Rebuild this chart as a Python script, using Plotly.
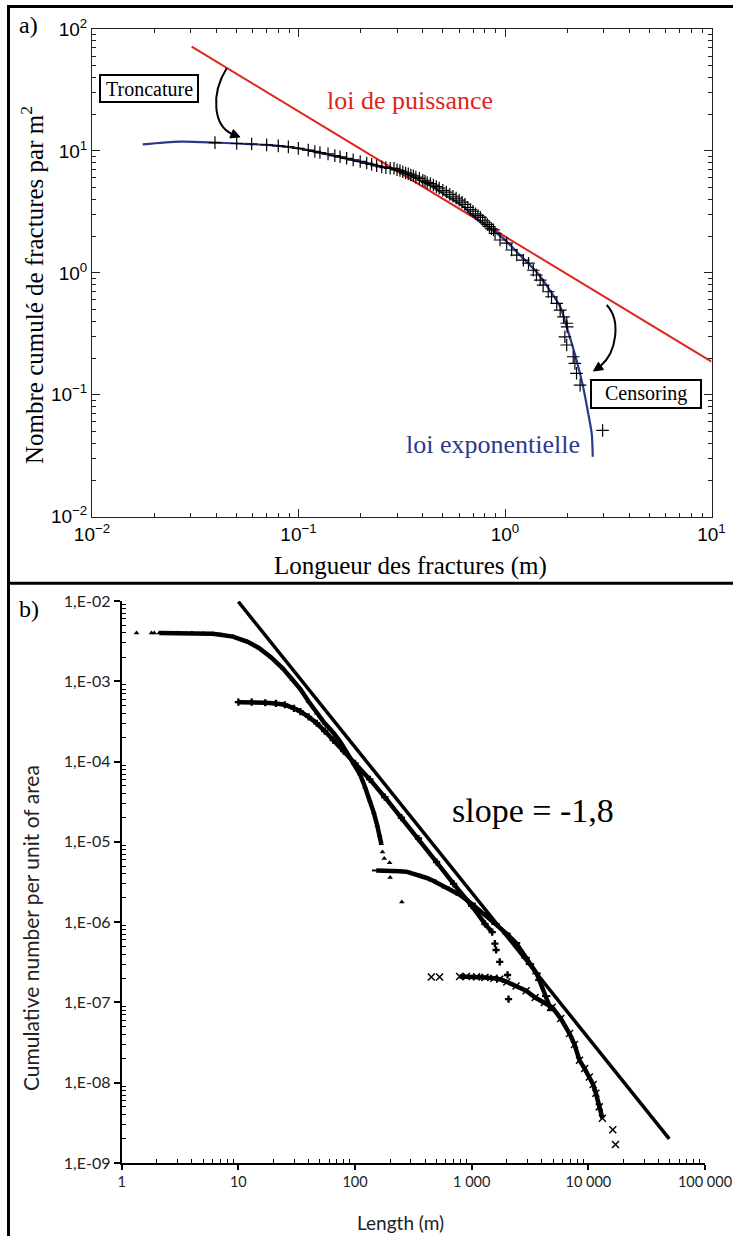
import plotly.graph_objects as go

# ---------------- Panel a data ----------------
red_x = [0.0304, 10.0]
red_y = [71.6, 0.187]

blue_x = [0.0176, 0.0267, 0.0394, 0.0502, 0.0701, 0.0998, 0.1425, 0.214, 0.299, 0.434,
          0.522, 0.628, 0.678, 0.846, 0.981, 1.18, 1.42, 1.65, 1.85, 1.99,
          2.22, 2.39, 2.53, 2.63, 2.66]
blue_y = [11.3, 11.9, 11.7, 11.5, 11.2, 10.5, 9.25, 7.9, 6.97, 5.2,
          4.25, 3.5, 3.08, 2.32, 1.92, 1.40, 1.02, 0.72, 0.527, 0.361,
          0.193, 0.116, 0.0703, 0.048, 0.031]

plus_x = [0.0394, 0.0502, 0.0593, 0.0701, 0.0798, 0.0893, 0.0998, 0.1115, 0.120, 0.127,
          0.139, 0.150, 0.159, 0.171, 0.184, 0.199, 0.214, 0.226, 0.239, 0.253,
          0.265, 0.278,
          0.29, 0.30, 0.31, 0.32, 0.33, 0.34, 0.35, 0.36, 0.37, 0.385,
          0.40, 0.41, 0.42, 0.435, 0.45, 0.465, 0.48, 0.50, 0.52, 0.54,
          0.56, 0.58, 0.60, 0.62, 0.64, 0.66, 0.68, 0.70, 0.72, 0.74,
          0.76, 0.78, 0.80, 0.82, 0.84, 0.86, 0.88,
          0.895, 0.946, 1.019, 1.077, 1.14, 1.227, 1.30, 1.37, 1.42, 1.48,
          1.53, 1.62, 1.68, 1.78, 1.85, 1.92, 1.99, 2.0, 1.95, 1.99,
          2.14, 2.18, 2.22, 2.31, 2.97]
plus_y = [11.7, 11.5, 11.4, 11.2, 11.0, 10.8, 10.5, 10.15, 9.9, 9.7,
          9.45, 9.15, 8.95, 8.7, 8.45, 8.2, 7.95, 7.75, 7.55, 7.4,
          7.3, 7.2,
          7.2, 7.0, 6.9, 6.75, 6.6, 6.5, 6.35, 6.25, 6.1, 5.95,
          5.75, 5.65, 5.5, 5.4, 5.25, 5.1, 4.95, 4.75, 4.6, 4.4,
          4.25, 4.1, 3.95, 3.8, 3.65, 3.45, 3.3, 3.2, 3.05, 2.95,
          2.85, 2.7, 2.6, 2.5, 2.4, 2.3, 2.25,
          2.11, 1.86, 1.75, 1.54, 1.40, 1.27, 1.20, 1.05, 0.96, 0.873,
          0.794, 0.70, 0.637, 0.562, 0.495, 0.436, 0.386, 0.361, 0.299, 0.256,
          0.205, 0.181, 0.150, 0.120, 0.051]

a_xticks = [0.01, 0.1, 1, 10]
a_xticktext = ["10<sup>−2</sup>", "10<sup>−1</sup>", "10<sup>0</sup>", "10<sup>1</sup>"]
a_yticks = [0.01, 0.1, 1, 10, 100]
a_yticktext = ["10<sup>−2</sup>", "10<sup>−1</sup>", "10<sup>0</sup>", "10<sup>1</sup>", "10<sup>2</sup>"]

# ---------------- Panel b data ----------------
tri_tail0_x = [1.34, 1.8, 1.9]
tri_tail0_y = [4.0e-3, 4.0e-3, 4.0e-3]
tri_x = [2.1, 3, 4, 5, 6, 7, 9, 12, 15, 19, 24, 29, 34, 40, 47, 55, 65, 74, 85, 97,
         110, 122, 134, 145, 155, 163, 168]
tri_y = [4.0e-3, 4.0e-3, 4.0e-3, 3.95e-3, 3.9e-3, 3.8e-3, 3.6e-3, 3.1e-3, 2.6e-3, 2.0e-3,
         1.45e-3, 1.05e-3, 8.0e-4, 5.6e-4, 4.0e-4, 3.0e-4, 2.3e-4, 1.8e-4, 1.3e-4, 9.5e-5,
         7.0e-5, 4.8e-5, 3.3e-5, 2.3e-5, 1.6e-5, 1.2e-5, 9.5e-6]
tri_tail_x = [172, 178, 198, 200, 252]
tri_tail_y = [7.5e-6, 6.2e-6, 5.5e-6, 3.6e-6, 1.78e-6]

plus_b_x = [10, 13, 17, 21, 25, 30, 34, 40, 47, 55, 65, 80, 100, 134, 180, 250, 350,
            500, 700, 1000, 1300, 1500]
plus_b_y = [5.5e-4, 5.5e-4, 5.4e-4, 5.3e-4, 5.1e-4, 4.6e-4, 4.2e-4, 3.6e-4, 3.0e-4,
            2.4e-4, 1.85e-4, 1.35e-4, 9.5e-5, 6.0e-5, 3.6e-5, 2.0e-5, 1.1e-5,
            5.6e-6, 3.0e-6, 1.6e-6, 9.5e-7, 7.5e-7]
plus_b_tail_x = [1580, 1620, 1740, 2030, 2070]
plus_b_tail_y = [5.4e-7, 4.5e-7, 3.2e-7, 2.2e-7, 1.1e-7]

dash_x = [152, 170, 200, 240, 275, 340, 400, 463, 600, 788, 1000, 1245, 1600, 1990,
          2400, 2900, 3160, 3600, 3800, 4350, 4800]
dash_y = [4.4e-6, 4.4e-6, 4.35e-6, 4.3e-6, 4.25e-6, 3.9e-6, 3.6e-6, 3.3e-6, 2.7e-6,
          2.2e-6, 1.7e-6, 1.3e-6, 9.5e-7, 7.2e-7, 5.5e-7, 3.6e-7, 3.0e-7, 2.3e-7,
          1.9e-7, 1.2e-7, 8.0e-8]

x_tail0_x = [451, 531]
x_tail0_y = [2.07e-7, 2.07e-7]
x_x = [788, 900, 1100, 1300, 1550, 1740, 2000, 2400, 2930, 3500, 4200, 4900, 5800,
       6900, 7600, 8400, 9300, 10200, 11000, 11600, 12400, 13200]
x_y = [2.1e-7, 2.1e-7, 2.08e-7, 2.05e-7, 2.0e-7, 1.95e-7, 1.8e-7, 1.6e-7, 1.4e-7,
       1.15e-7, 1.0e-7, 8.7e-8, 6.3e-8, 4.1e-8, 3.0e-8, 1.9e-8, 1.5e-8, 1.18e-8,
       9.5e-9, 7.4e-9, 5.0e-9, 3.6e-9]
x_tail_x = [16200, 17100]
x_tail_y = [2.6e-9, 1.7e-9]

fit_x = [10, 49400]
fit_y = [9.8e-3, 2.0e-9]

b_xticks = [1, 10, 100, 1000, 10000, 100000]
b_xticktext = ["1", "10", "100", "1 000", "10 000", "100 000"]
b_yticks = [1e-9, 1e-8, 1e-7, 1e-6, 1e-5, 1e-4, 1e-3, 1e-2]
b_yticktext = ["1,E-09", "1,E-08", "1,E-07", "1,E-06", "1,E-05", "1,E-04", "1,E-03", "1,E-02"]

# ---------------- Layout helpers ----------------
W, H = 733, 1236


def PX(x):
    return x / W


def PY(y):
    return 1 - y / H


SERIF = "Liberation Serif"
SANS = "Liberation Sans"
CAL = "Lato"
RED = "#e2231a"
BLUE = "#2b3a8c"

fig = go.Figure()

# Panel a traces
fig.add_trace(go.Scatter(x=red_x, y=red_y, mode="lines", line=dict(color=RED, width=2),
                         xaxis="x", yaxis="y", showlegend=False))
fig.add_trace(go.Scatter(x=blue_x, y=blue_y, mode="lines",
                         line=dict(color=BLUE, width=2.2, shape="spline", smoothing=0.8),
                         xaxis="x", yaxis="y", showlegend=False))
fig.add_trace(go.Scatter(x=plus_x, y=plus_y, mode="markers",
                         marker=dict(symbol="cross-thin-open", size=9, color="black",
                                     line=dict(color="black", width=1.2)),
                         xaxis="x", yaxis="y", showlegend=False))

# Panel b traces
band = dict(color="black", width=4.5)
fig.add_trace(go.Scatter(x=tri_x, y=tri_y, mode="lines+markers", line=band,
                         marker=dict(symbol="triangle-up", size=5, color="black"),
                         xaxis="x2", yaxis="y2", showlegend=False))
fig.add_trace(go.Scatter(x=tri_tail0_x + tri_tail_x, y=tri_tail0_y + tri_tail_y, mode="markers",
                         marker=dict(symbol="triangle-up", size=5, color="black"),
                         xaxis="x2", yaxis="y2", showlegend=False))
fig.add_trace(go.Scatter(x=plus_b_x, y=plus_b_y, mode="lines+markers", line=band,
                         marker=dict(symbol="cross", size=6, color="black"),
                         xaxis="x2", yaxis="y2", showlegend=False))
fig.add_trace(go.Scatter(x=plus_b_tail_x, y=plus_b_tail_y, mode="markers",
                         marker=dict(symbol="cross", size=6, color="black"),
                         xaxis="x2", yaxis="y2", showlegend=False))
fig.add_trace(go.Scatter(x=dash_x, y=dash_y, mode="lines+markers", line=band,
                         marker=dict(symbol="line-ew-open", size=6, color="black",
                                     line=dict(color="black", width=2)),
                         xaxis="x2", yaxis="y2", showlegend=False))
fig.add_trace(go.Scatter(x=x_x, y=x_y, mode="lines+markers", line=band,
                         marker=dict(symbol="x-thin-open", size=7, color="black",
                                     line=dict(color="black", width=1.5)),
                         xaxis="x2", yaxis="y2", showlegend=False))
fig.add_trace(go.Scatter(x=x_tail0_x + x_tail_x, y=x_tail0_y + x_tail_y, mode="markers",
                         marker=dict(symbol="x-thin-open", size=7, color="black",
                                     line=dict(color="black", width=1.5)),
                         xaxis="x2", yaxis="y2", showlegend=False))
fig.add_trace(go.Scatter(x=fit_x, y=fit_y, mode="lines", line=dict(color="black", width=3.5),
                         xaxis="x2", yaxis="y2", showlegend=False))

minor_a_x = [m * 10 ** e for e in range(-2, 1) for m in range(2, 10)]
minor_a_y = [m * 10 ** e for e in range(-2, 2) for m in range(2, 10)]
minor_b_x = [m * 10 ** e for e in range(0, 5) for m in range(2, 10)]
minor_b_y = [m * 10.0 ** e for e in range(-9, -2) for m in range(2, 10)]

axis_a = dict(type="log", showgrid=False, zeroline=False, showline=True, linecolor="#222",
              linewidth=1, mirror="allticks", ticks="inside", ticklen=8, tickcolor="#222",
              tickmode="array", automargin=False, ticklabeloverflow="allow",
              tickfont=dict(family=SANS, size=19, color="black"))

fig.update_layout(
    width=W, height=H,
    margin=dict(l=0, r=0, t=0, b=0, autoexpand=False),
    paper_bgcolor="white", plot_bgcolor="white",
    xaxis=dict(axis_a, range=[-2, 1], domain=[PX(92), PX(711.5)], anchor="y",
               tickvals=a_xticks, ticktext=a_xticktext,
               minor=dict(ticks="inside", ticklen=4, tickvals=minor_a_x, tickcolor="#222")),
    yaxis=dict(axis_a, range=[-2, 2], domain=[PY(516.7), PY(29)], anchor="x",
               tickvals=a_yticks, ticktext=a_yticktext,
               minor=dict(ticks="inside", ticklen=4, tickvals=minor_a_y, tickcolor="#222")),
    xaxis2=dict(type="log", range=[0, 5], domain=[PX(121.7), PX(705)], anchor="y2",
                showgrid=False, zeroline=False, showline=True, linecolor="black", linewidth=2,
                ticks="outside", ticklen=5, tickwidth=1.5, tickcolor="black",
                tickmode="array", tickvals=b_xticks, ticktext=b_xticktext, automargin=False,
                ticklabeloverflow="allow",
                tickfont=dict(family=CAL, size=14.5, color="#222"),
                minor=dict(ticks="inside", ticklen=4, tickvals=minor_b_x, tickcolor="black",
                           tickwidth=1.2)),
    yaxis2=dict(type="log", range=[-9, -2], domain=[PY(1163), PY(601)], anchor="x2",
                showgrid=False, zeroline=False, showline=True, linecolor="black", linewidth=2,
                ticks="outside", ticklen=6, tickwidth=1.5, tickcolor="black",
                tickmode="array", tickvals=b_yticks, ticktext=b_yticktext, automargin=False,
                ticklabeloverflow="allow",
                tickfont=dict(family=CAL, size=16, color="#222"),
                minor=dict(ticks="inside", ticklen=4, tickvals=minor_b_y, tickcolor="black",
                           tickwidth=1.2)),
)


def ann(x, y, text, size, family=SERIF, color="black", angle=0):
    fig.add_annotation(x=PX(x), y=PY(y), xref="paper", yref="paper", text=text,
                       showarrow=False, xanchor="center", yanchor="middle",
                       textangle=angle, font=dict(family=family, size=size, color=color))


ann(28, 25, "a)", 24)
ann(29, 609, "b)", 24)
ann(410, 100, "loi de puissance", 26, color=RED)
ann(493, 444, "loi exponentielle", 26, color=BLUE)
ann(149, 89, "Troncature", 20)
ann(646, 394, "Censoring", 20)
ann(410, 566, "Longueur des fractures (m)", 25)
ann(32, 285, "Nombre cumulé de fractures par m<sup>2</sup>", 25, angle=-90)
ann(533, 810, "slope = -1,8", 34)
ann(400, 1222, "Length (m)", 19, family=CAL, color="#222")
ann(30, 928, "Cumulative number per unit of area", 21, family=CAL, color="#222", angle=-90)

# Boxes around labels
for (x0, y0, x1, y1) in [(100, 75, 198, 102), (591, 380, 701, 408)]:
    fig.add_shape(type="rect", xref="paper", yref="paper", x0=PX(x0), y0=PY(y1),
                  x1=PX(x1), y1=PY(y0), line=dict(color="black", width=2))


def P(x, y):
    return f"{PX(x):.5f},{PY(y):.5f}"


# Curved arrows with filled heads
fig.add_shape(type="path", xref="paper", yref="paper",
              path=f"M {P(226.7, 68.3)} C {P(210, 95)} {P(214, 126)} {P(232, 134)}",
              line=dict(color="black", width=2))
fig.add_shape(type="path", xref="paper", yref="paper",
              path=f"M {P(240, 137)} L {P(229.8, 137.8)} L {P(233.4, 129.6)} Z",
              fillcolor="black", line=dict(color="black", width=1))
fig.add_shape(type="path", xref="paper", yref="paper",
              path=f"M {P(606.7, 305)} C {P(621, 320)} {P(617, 352)} {P(600.5, 366)}",
              line=dict(color="black", width=2))
fig.add_shape(type="path", xref="paper", yref="paper",
              path=f"M {P(593.5, 371)} L {P(598.4, 362.2)} L {P(603.6, 369.6)} Z",
              fillcolor="black", line=dict(color="black", width=1))

# Frame lines
fig.add_shape(type="line", xref="paper", yref="paper", x0=PX(8.5), y0=PY(5.5), x1=PX(8.5), y1=PY(1236),
              line=dict(color="black", width=3))
fig.add_shape(type="line", xref="paper", yref="paper", x0=PX(7), y0=PY(6.5), x1=PX(733), y1=PY(6.5),
              line=dict(color="black", width=3))
fig.add_shape(type="line", xref="paper", yref="paper", x0=PX(7), y0=PY(583.3), x1=PX(733), y1=PY(583.3),
              line=dict(color="black", width=3))

fig.write_html("out.html", config={"displayModeBar": False},
               post_script="document.body.style.margin='0';document.body.style.padding='0';"
                           "document.body.style.overflow='hidden';")
